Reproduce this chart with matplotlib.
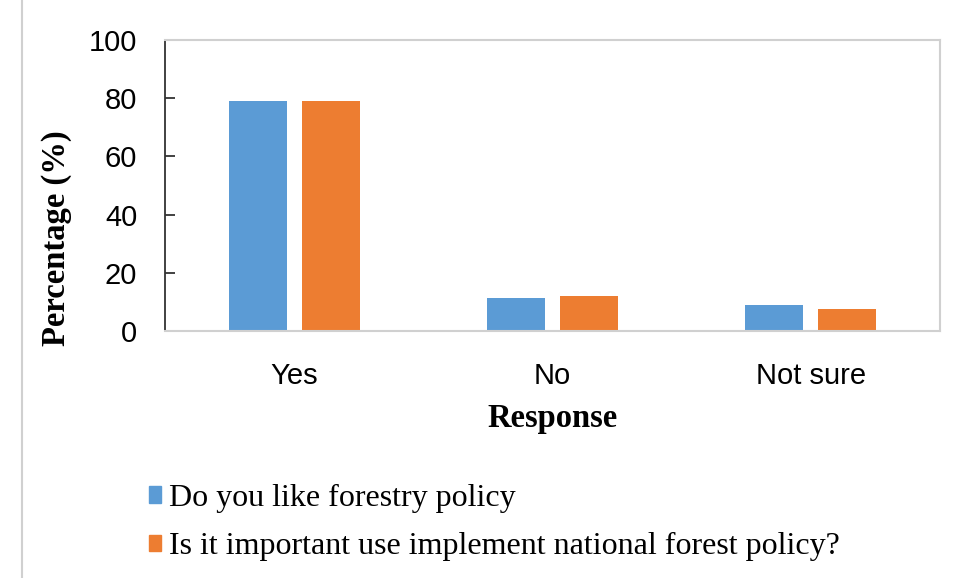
import numpy as np
import matplotlib
matplotlib.use('Agg')
import matplotlib.pyplot as plt
from matplotlib.patches import Patch
from matplotlib.lines import Line2D

BLUE = '#5B9BD5'; ORANGE = '#ED7D31'; FRAME = '#D0D0D0'

categories = ['Yes', 'No', 'Not sure']
like_policy = [79, 11.3, 8.9]
implement_policy = [79, 12, 7.7]
series_names = ['Do you like forestry policy',
                'Is it important use implement national forest policy?']

fig = plt.figure(figsize=(9.56, 5.78), dpi=100)
ax = fig.add_axes([0.1726, 0.4273, 0.8105, 0.5035])

x = np.arange(len(categories))
w = 0.225
off = 0.141
ax.bar(x - off, like_policy, w, color=BLUE, label=series_names[0])
ax.bar(x + off, implement_policy, w, color=ORANGE, label=series_names[1])

ax.set_xlim(-0.5, 2.5)
ax.set_ylim(0, 100)
ax.set_yticks(range(0, 101, 20))
ax.set_xticks(x)
ax.set_xticklabels(categories)

for s in ['top', 'right', 'bottom']:
    ax.spines[s].set_color(FRAME)
    ax.spines[s].set_linewidth(1.5)
ax.spines['left'].set_color('#333333')
ax.spines['left'].set_linewidth(1.3)

ax.tick_params(axis='y', direction='in', length=7, width=1.3, color='#333333',
               labelsize=21, pad=20)
ax.tick_params(axis='x', length=0, labelsize=21, pad=22)
for lbl in ax.get_xticklabels() + ax.get_yticklabels():
    lbl.set_fontfamily('Liberation Sans')

ax.set_ylabel('Percentage (%)', fontfamily='Liberation Serif', fontweight='bold',
              fontsize=23.5)
ax.yaxis.set_label_coords(-0.12, 0.32)
ax.set_xlabel('Response', fontfamily='Liberation Serif', fontweight='bold',
              fontsize=23.5, labelpad=10)

handles = [Patch(color=BLUE), Patch(color=ORANGE)]
fig.legend(handles, series_names, loc='upper left', bbox_to_anchor=(0.142, 0.185),
           frameon=False, prop={'family': 'Liberation Serif', 'size': 23},
           handlelength=0.4, handleheight=0.4, handletextpad=0.25,
           labelspacing=0.6, borderaxespad=0)

fig.add_artist(Line2D([0.023, 0.023], [0, 1], transform=fig.transFigure,
                      color=FRAME, lw=1.5))

plt.savefig('out.png', dpi=100)
